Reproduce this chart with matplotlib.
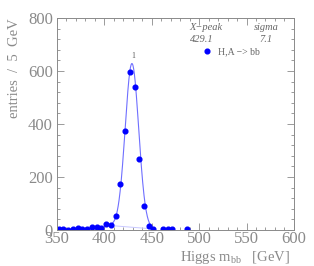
import numpy as np
import matplotlib
matplotlib.use("Agg")
import matplotlib.pyplot as plt
from matplotlib.ticker import MultipleLocator

# histogram bin centres and contents (entries / 5 GeV)
mass = [351.8, 356.8, 361.8, 366.8, 371.8, 376.8, 381.8, 386.8, 391.8, 396.8,
        401.8, 406.8, 411.8, 416.8, 421.8, 426.8, 431.8, 436.8, 441.8, 446.8,
        451.8, 461.8, 466.8, 471.8, 486.8]
entries = [3, 3, 1, 5, 6, 5, 3, 10, 13, 9,
           22, 18, 52, 172, 374, 598, 540, 268, 92, 16,
           4, 2, 2, 2, 2]

# fit result
x_peak = 429.1
sigma = 7.1
amp = 618
fit_lo, fit_hi = 406.0, 452.0
bg_lo, bg_hi = 17.0, 4.0

grey = "#8a8a8a"
plt.rcParams["font.family"] = ["Liberation Serif", "DejaVu Serif"]

fig = plt.figure(figsize=(3.14, 2.66), dpi=100)
ax = fig.add_axes([0.1815, 0.1353, 0.7545, 0.7967])

xf = np.linspace(fit_lo, fit_hi, 200)
bg = bg_lo + (bg_hi - bg_lo) * (xf - fit_lo) / (fit_hi - fit_lo)
yf = bg + amp * np.exp(-0.5 * ((xf - x_peak) / sigma) ** 2)
ax.plot(xf, yf, color="#6f6fff", lw=0.8)
ax.plot([fit_lo, fit_hi], [bg_lo, bg_hi], color="#c8c8ff", lw=0.7)

ax.plot(mass, entries, "o", color="#0000ff", ms=3.4, ls="none")
ax.text(430, 640, "1", fontsize=5.5, color="#555555", ha="center", va="bottom")

ax.set_xlim(350, 600)
ax.set_ylim(0, 800)
ax.xaxis.set_major_locator(MultipleLocator(50))
ax.xaxis.set_minor_locator(MultipleLocator(10))
ax.yaxis.set_major_locator(MultipleLocator(200))
ax.yaxis.set_minor_locator(MultipleLocator(40))
ax.tick_params(which="both", direction="in", top=True, right=True,
               colors=grey, labelcolor=grey, labelsize=12, width=0.6)
ax.tick_params(axis="x", which="major", length=5, pad=1)
ax.tick_params(axis="y", which="major", length=5, pad=3)
ax.tick_params(which="minor", length=2.5)
for s in ax.spines.values():
    s.set_color(grey)
    s.set_linewidth(0.7)

ax.set_xlabel(r"Higgs m$_{\mathregular{bb}}$   [GeV]", color=grey, fontsize=10.5,
              ha="right", x=0.985, labelpad=1)
ax.set_ylabel("entries  /  5  GeV", color=grey, fontsize=10.5, ha="right",
              y=1.0, labelpad=5)

# legend box text
ax.text(0.56, 0.955, "X\u2212peak", transform=ax.transAxes, fontsize=7.5,
        style="italic", color="#666666", ha="left", va="center")
ax.text(0.935, 0.955, "sigma", transform=ax.transAxes, fontsize=7.5,
        style="italic", color="#666666", ha="right", va="center")
ax.text(0.56, 0.90, "429.1", transform=ax.transAxes, fontsize=7.5,
        style="italic", color="#666666", ha="left", va="center")
ax.text(0.91, 0.90, "7.1", transform=ax.transAxes, fontsize=7.5,
        style="italic", color="#666666", ha="right", va="center")
ax.plot([0.635], [0.843], "o", color="#0000ff", ms=3.4, transform=ax.transAxes)
ax.text(0.68, 0.843, "H,A \u2212> bb", transform=ax.transAxes, fontsize=7,
        color="#666666", ha="left", va="center")

fig.savefig("out.png", dpi=100)
